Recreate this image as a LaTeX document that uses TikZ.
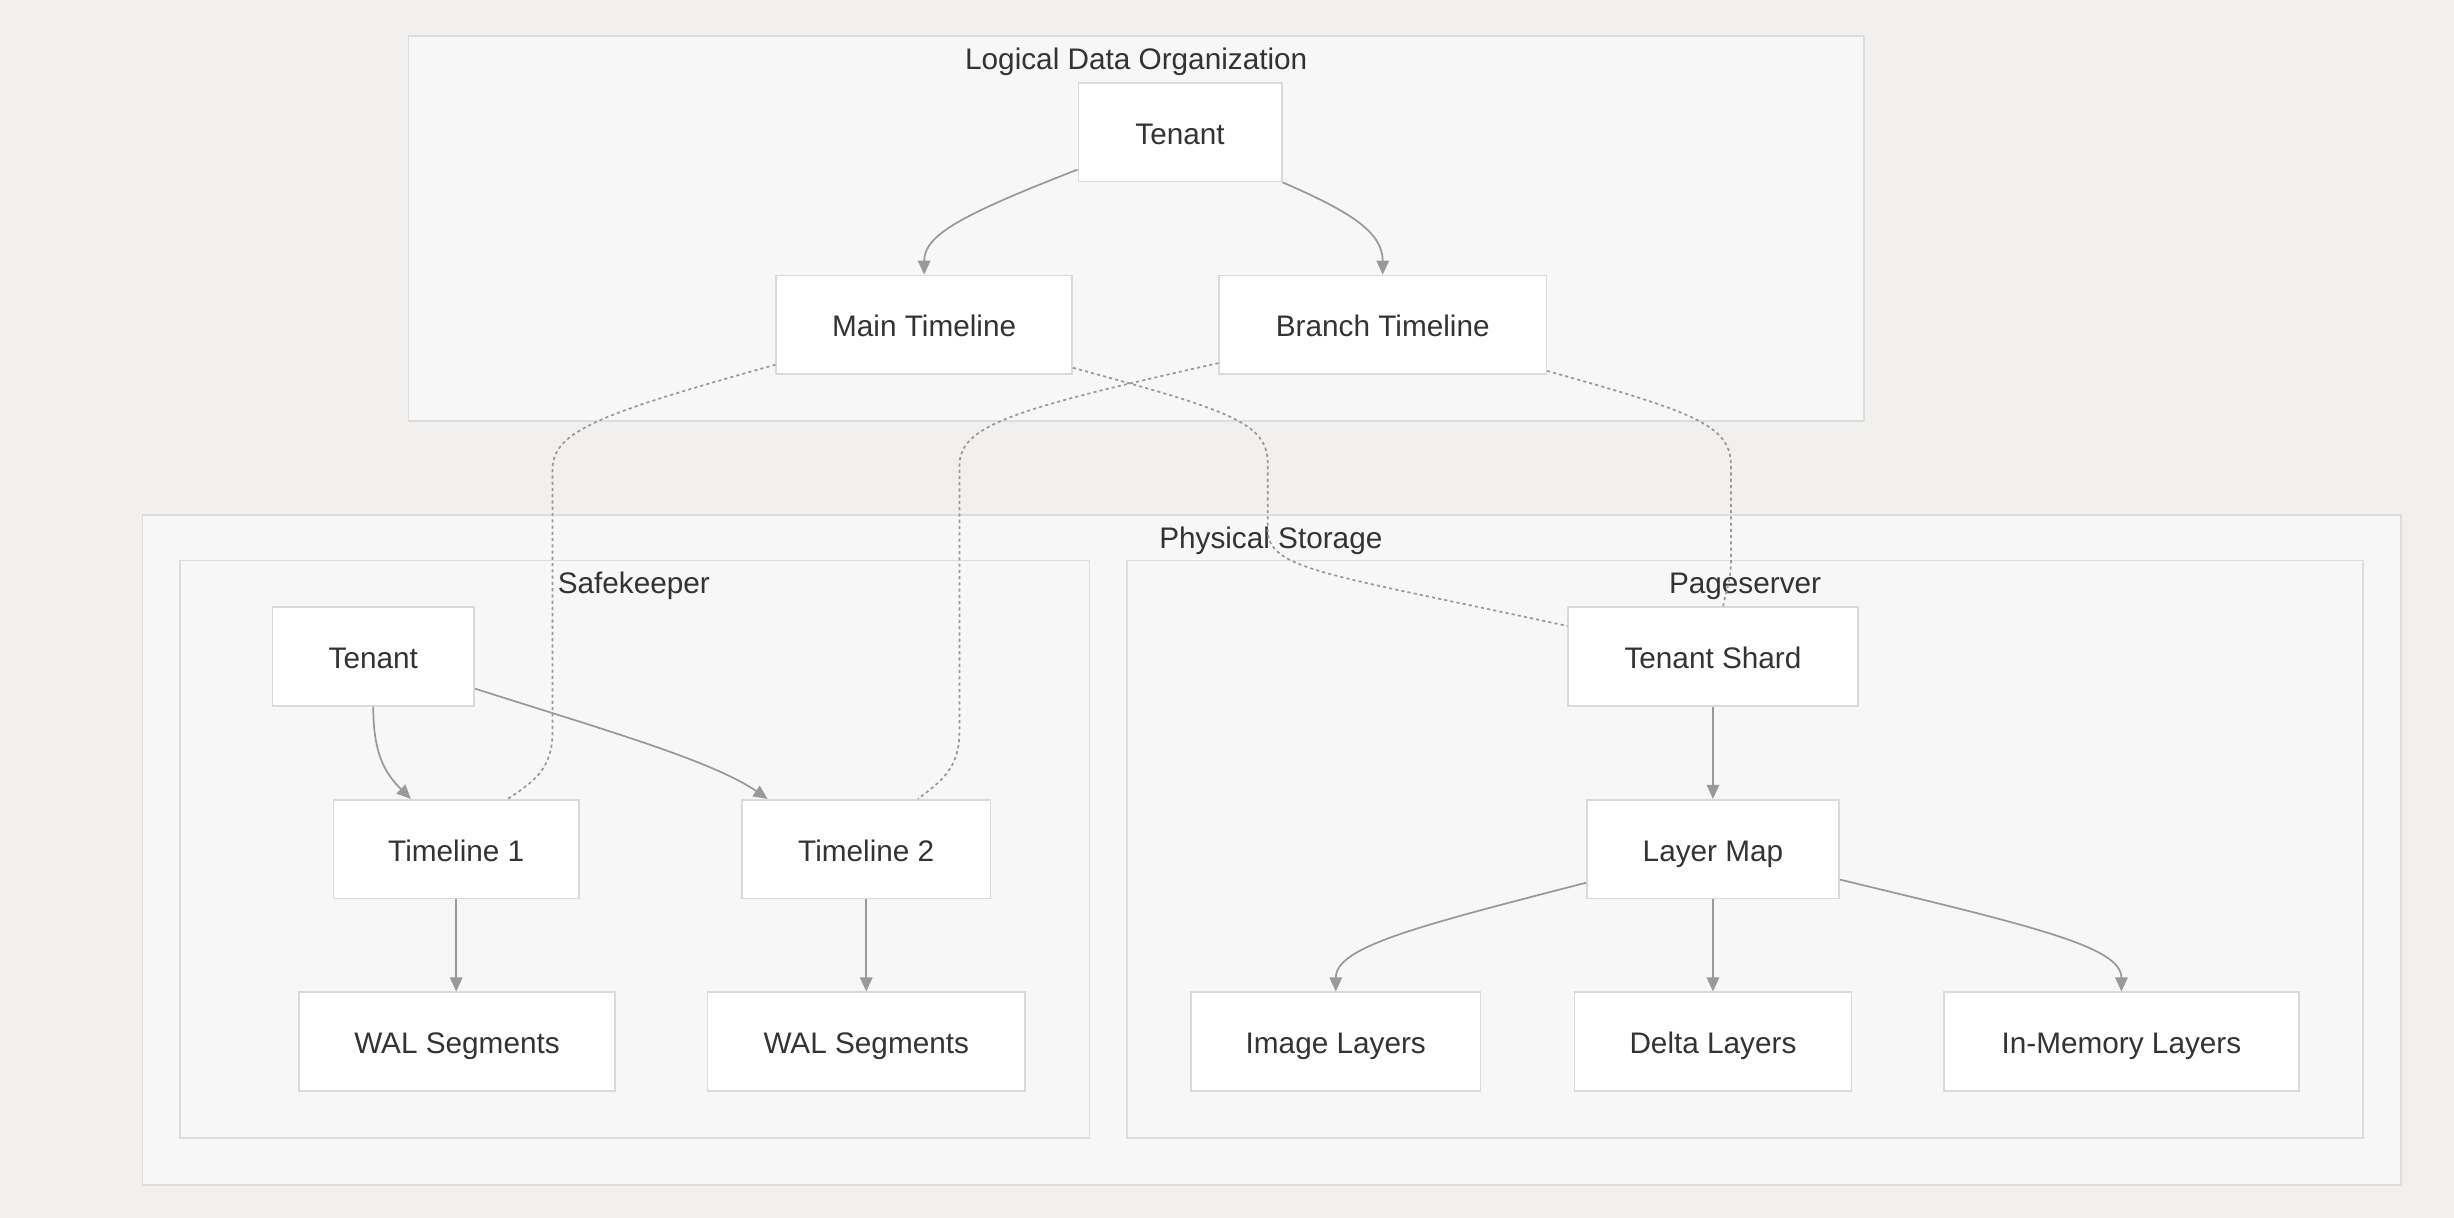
\documentclass[tikz,border=0pt]{standalone}
\usepackage{fontspec}
\setmainfont{Liberation Sans}
\usepackage{tikz}
\usetikzlibrary{arrows.meta,calc}
\definecolor{pagebg}{HTML}{F1F0EF}
\definecolor{groupbg}{HTML}{F7F7F7}
\definecolor{groupline}{HTML}{DDDDDD}
\definecolor{boxline}{HTML}{DADADA}
\definecolor{edgegray}{HTML}{999999}
\definecolor{txt}{HTML}{333333}

\begin{document}
\begin{tikzpicture}[x=1pt,y=-1pt,
	box/.style={draw=boxline,fill=white,line width=1pt,minimum height=63pt,inner sep=0pt,text height=15.4pt,text depth=0pt,font=\fontsize{19}{23}\selectfont,text=txt},
	group/.style={draw=groupline,fill=groupbg,line width=1pt},
	grouptitle/.style={anchor=base,inner sep=0pt,font=\fontsize{19}{23}\selectfont,text=txt},
	link/.style={draw=edgegray,line width=1.1pt,-{Triangle[length=9pt,width=8pt]}},
	tie/.style={draw=edgegray,line width=1.1pt,dash pattern=on 2pt off 2pt}]
	\useasboundingbox (0,0) rectangle (1568,778);
	\fill[pagebg] (0,0) rectangle (1568,778);
	\draw[group] (261,23) rectangle (1191,269);
	\draw[group] (91,329) rectangle (1534,757);
	\draw[group] (115,358) rectangle (696,727);
	\draw[group] (720,358) rectangle (1510,727);
	\node (logicaltitle) at (726,44.5)[grouptitle] {Logical Data Organization};
	\node (physicaltitle) at (812,350.5)[grouptitle] {Physical Storage};
	\node (safetitle) at (405,379.5)[grouptitle] {Safekeeper};
	\node (pagetitle) at (1115,379.5)[grouptitle] {Pageserver};
	\node (lt) at (754,84.5)[box,minimum width=130pt] {Tenant};
	\node (mt) at (590.5,207.5)[box,minimum width=189pt] {Main Timeline};
	\node (bt) at (883.5,207.5)[box,minimum width=209pt] {Branch Timeline};
	\node (st) at (238.5,419.5)[box,minimum width=129pt] {Tenant};
	\node (t1) at (291.5,542.5)[box,minimum width=157pt] {Timeline 1};
	\node (t2) at (553.5,542.5)[box,minimum width=159pt] {Timeline 2};
	\node (w1) at (292,665.5)[box,minimum width=202pt] {WAL Segments};
	\node (w2) at (553.5,665.5)[box,minimum width=203pt] {WAL Segments};
	\node (ts) at (1094.5,419.5)[box,minimum width=185pt] {Tenant Shard};
	\node (lm) at (1094.5,542.5)[box,minimum width=161pt] {Layer Map};
	\node (il) at (853.5,665.5)[box,minimum width=185pt] {Image Layers};
	\node (dl) at (1094.5,665.5)[box,minimum width=177pt] {Delta Layers};
	\node (ml) at (1355.5,665.5)[box,minimum width=227pt] {In-Memory Layers};
	\draw[link] (lt.200) .. controls (615,137) and (590.5,150) .. (mt.north);
	\draw[link] (lt.south east) .. controls (862,135) and (883.5,148) .. (bt.north);
	\draw[link] (st.south) .. controls (238.5,482) and (246,494) .. ($(t1.north west)+(50,0)$);
	\draw[link] ($(st.east)+(0,20.5)$) .. controls (385,466) and (455,486) .. ($(t2.north west)+(17,0)$);
	\draw[link] (t1.south) -- (t1.south |- w1.north);
	\draw[link] (t2.south) -- (t2.south |- w2.north);
	\draw[link] (ts) -- (lm);
	\draw[link] (lm) -- (dl);
	\draw[link] ($(lm.west)+(0,21.5)$) .. controls (905,592) and (853.5,605) .. (il.north);
	\draw[link] ($(lm.east)+(0,19.5)$) .. controls (1300,592) and (1355.5,605) .. (ml.north);
	\draw[tie] ($(mt.west)+(0,25.5)$) .. controls (385,264) and (353,275) .. (353,300) -- (353,468) .. controls (353,492) and (340,500) .. ($(t1.north west)+(112,0)$);
	\draw[tie] ($(bt.west)+(0,24.5)$) .. controls (645,262) and (613,272) .. (613,298) -- (613,468) .. controls (613,492) and (600,500) .. ($(t2.north west)+(113,0)$);
	\draw[tie] ($(mt.east)+(0,27.5)$) .. controls (785,262) and (810,270) .. (810,296) -- (810,338) .. controls (810,364) and (845,366) .. ($(ts.west)+(0,-19.5)$);
	\draw[tie] ($(bt.east)+(0,29.5)$) .. controls (1085,264) and (1106,272) .. (1106,298) -- (1106,358) .. controls (1106,372) and (1102,380) .. ($(ts.north)+(6.5,0)$);
\end{tikzpicture}
\end{document}
